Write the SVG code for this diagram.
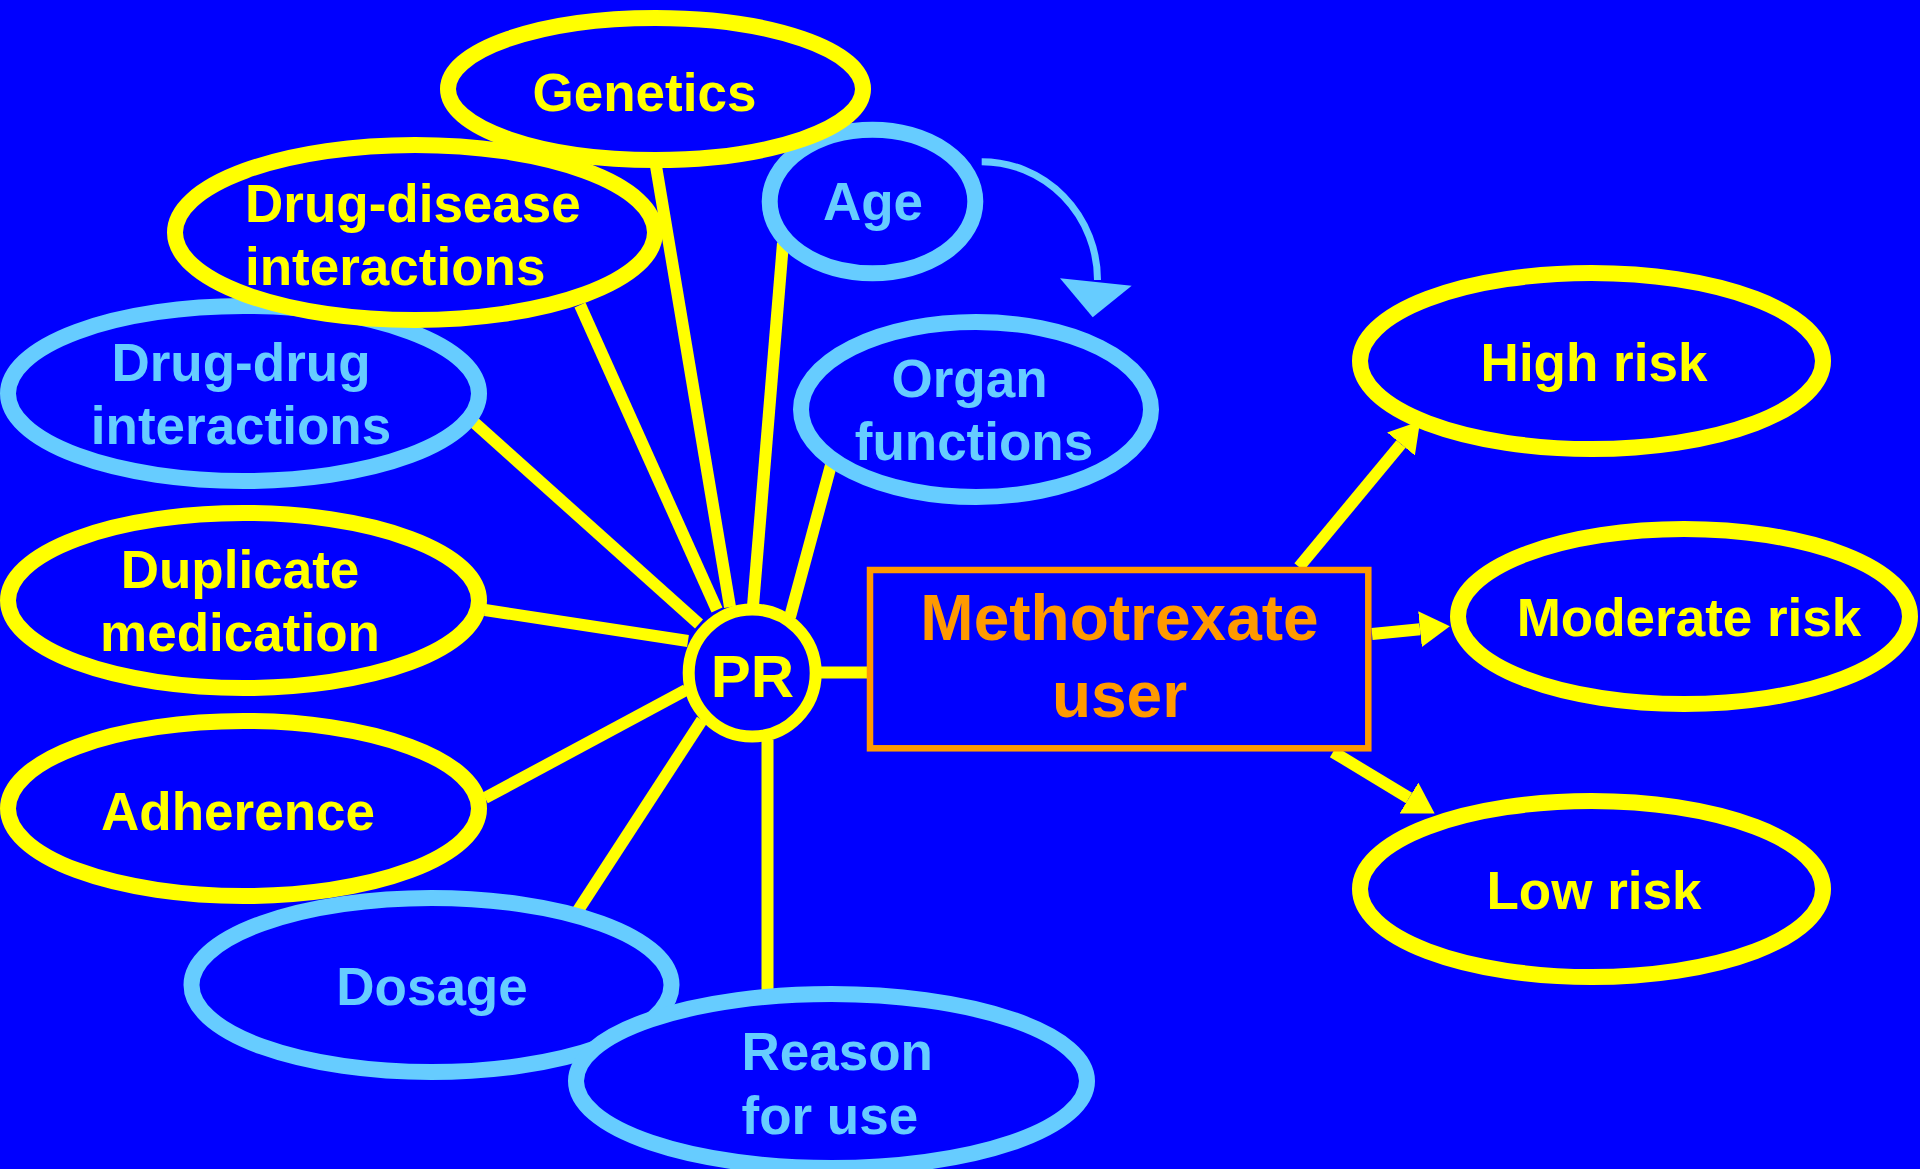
<svg xmlns="http://www.w3.org/2000/svg" width="1920" height="1169" viewBox="0 0 1920 1169">
<defs>
<style>
.bg{fill:#0000FF}
.ey{fill:#0000FF;stroke:#FFFF00;stroke-width:16}
.eb{fill:#0000FF;stroke:#66CCFF;stroke-width:16}
.t{font-family:"Liberation Sans",Arial,sans-serif;font-weight:bold;font-size:53px}
.ty{fill:#FFFF00}
.tb{fill:#66CCFF}
.c{text-anchor:middle}
.link{stroke:#FFFF00;stroke-width:12;fill:none;stroke-linecap:butt}
</style>
<marker id="ah" markerUnits="userSpaceOnUse" viewBox="0 0 30 36" refX="0" refY="18" markerWidth="30" markerHeight="36" orient="auto">
<path d="M0,0 L30,18 L0,36 z" fill="#FFFF00"/>
</marker>
</defs>
<rect class="bg" x="0" y="0" width="1920" height="1169"/>
<g id="connectors">
<line class="link" x1="656" y1="166" x2="730" y2="607"/>
<line class="link" x1="580" y1="305" x2="717" y2="610"/>
<line class="link" x1="783" y1="243" x2="753" y2="606"/>
<line class="link" x1="831" y1="465" x2="790" y2="617"/>
<line class="link" x1="468" y1="417" x2="699" y2="624"/>
<line class="link" x1="485" y1="610" x2="688" y2="641"/>
<line class="link" x1="485" y1="798" x2="686" y2="690"/>
<line class="link" x1="577" y1="912" x2="702" y2="720"/>
<line class="link" x1="767.5" y1="740" x2="767.5" y2="991"/>
<line class="link" x1="818" y1="672.5" x2="868" y2="672.5"/>
<line class="link" x1="1299" y1="567" x2="1401" y2="444" marker-end="url(#ah)"/>
<line class="link" x1="1372" y1="634" x2="1420" y2="629.2" marker-end="url(#ah)"/>
<line class="link" x1="1333" y1="752" x2="1409" y2="798" marker-end="url(#ah)"/>
<path d="M981.7,161.7 A115.8,118.3 0 0 1 1097.5,280" fill="none" stroke="#66CCFF" stroke-width="7"/>
<polygon points="1060,278.3 1131.7,285.7 1092.7,317.3" fill="#66CCFF"/>
</g>
<g id="node-age">
<ellipse class="eb" cx="872.5" cy="201.5" rx="102.8" ry="71.8"/>
<text class="t tb c" x="873" y="220">Age</text>
</g>
<g id="node-drug-drug">
<ellipse class="eb" cx="243.5" cy="393.5" rx="235.5" ry="87.5"/>
<text class="t tb c" x="241" y="381">Drug-drug</text>
<text class="t tb c" x="241" y="444">interactions</text>
</g>
<g id="node-drug-disease">
<ellipse class="ey" cx="415" cy="232.5" rx="240" ry="87.5"/>
<text class="t ty" x="245" y="222">Drug-disease</text>
<text class="t ty" x="245" y="285">interactions</text>
</g>
<g id="node-genetics">
<ellipse class="ey" cx="655.5" cy="89" rx="207.5" ry="71"/>
<text class="t ty c" x="644.5" y="111">Genetics</text>
</g>
<g id="node-organ">
<ellipse class="eb" cx="976" cy="409.5" rx="175" ry="87.5"/>
<text class="t tb c" x="969.5" y="397">Organ</text>
<text class="t tb c" x="974" y="460">functions</text>
</g>
<g id="node-duplicate">
<ellipse class="ey" cx="243.5" cy="600.5" rx="235.5" ry="87.5"/>
<text class="t ty c" x="240" y="588">Duplicate</text>
<text class="t ty c" x="240" y="651">medication</text>
</g>
<g id="node-adherence">
<ellipse class="ey" cx="243.5" cy="808.5" rx="235.5" ry="87.5"/>
<text class="t ty c" x="238" y="830">Adherence</text>
</g>
<g id="node-dosage">
<ellipse class="eb" cx="431.5" cy="985" rx="240" ry="87"/>
<text class="t tb c" x="432" y="1004.5">Dosage</text>
</g>
<g id="node-reason">
<ellipse class="eb" cx="831.5" cy="1081" rx="255.5" ry="87"/>
<text class="t tb" x="741.5" y="1070">Reason</text>
<text class="t tb" x="741.5" y="1134">for use</text>
</g>
<g id="node-pr">
<circle cx="752.2" cy="673" r="63.5" fill="#0000FF" stroke="#FFFF00" stroke-width="12"/>
<text class="t ty c" x="752.5" y="696.7" style="font-size:60px">PR</text>
</g>
<g id="node-methotrexate">
<rect x="870" y="570" width="498.3" height="178.3" fill="#0000FF" stroke="#FF9900" stroke-width="6.5"/>
<text class="t c" x="1119.5" y="640" style="font-size:64px;fill:#FF9900">Methotrexate</text>
<text class="t c" x="1119.5" y="717" style="font-size:64px;fill:#FF9900">user</text>
</g>
<g id="node-high">
<ellipse class="ey" cx="1591.5" cy="361" rx="231.5" ry="88"/>
<text class="t ty c" x="1594" y="381">High risk</text>
</g>
<g id="node-moderate">
<ellipse class="ey" cx="1684" cy="616.5" rx="226" ry="87.5"/>
<text class="t ty c" x="1689" y="636">Moderate risk</text>
</g>
<g id="node-low">
<ellipse class="ey" cx="1591.5" cy="889" rx="231.5" ry="88"/>
<text class="t ty c" x="1594" y="909">Low risk</text>
</g>
</svg>
